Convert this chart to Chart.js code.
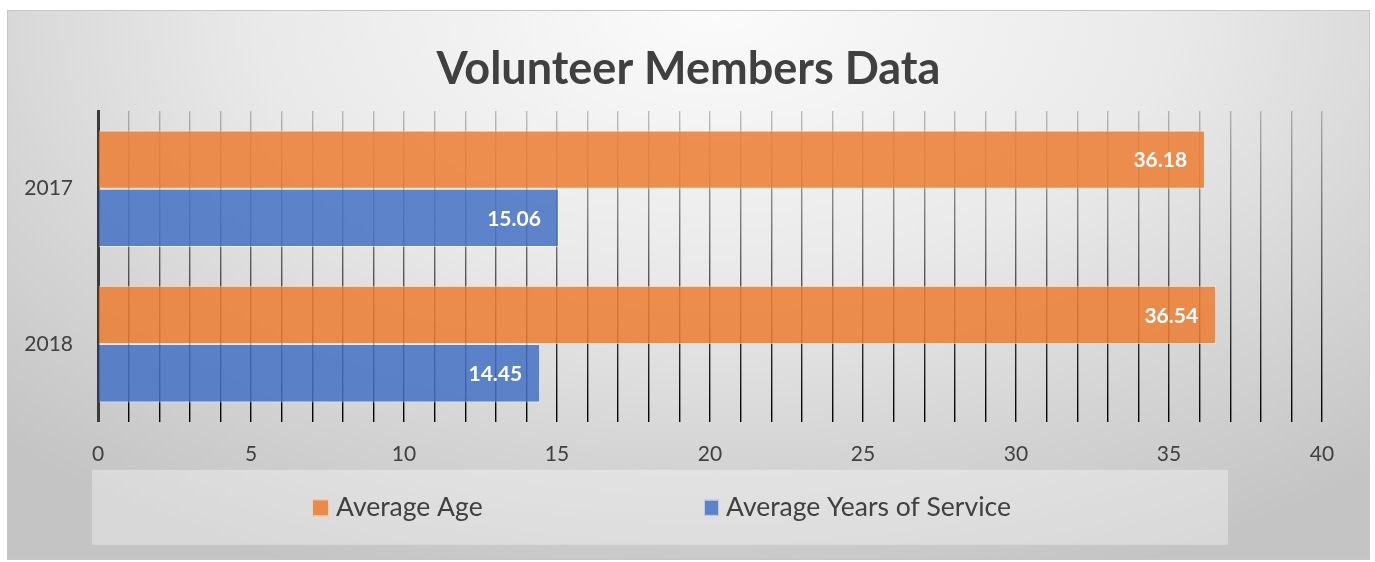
<!DOCTYPE html>
<html>
<head>
<meta charset="utf-8">
<script src="https://cdn.jsdelivr.net/npm/chart.js@4.4.1/dist/chart.umd.min.js"></script>
<style>
  html, body { margin: 0; padding: 0; background: #ffffff; }
  #frame {
    position: absolute; left: 7px; top: 10px; width: 1363px; height: 550px;
    box-sizing: border-box; border: 1px solid #c6c6c6;
    background: radial-gradient(ellipse 75% 110% at 52% 0%, #fbfbfb 0%, #e9e9e9 45%, #d4d4d4 75%, #c4c4c4 100%);
  }
</style>
</head>
<body>
<div id="frame"><canvas id="volunteerChart"></canvas></div>
<script>
// 数据
const years = ['2017', '2018'];
const avgAge = [36.18, 36.54];
const avgService = [15.06, 14.45];
const seriesNames = ['Average Age', 'Average Years of Service'];
const chartTitle = 'Volunteer Members Data';

const FONT = 'Lato, "Open Sans", sans-serif';
const orangeFill = 'rgba(237, 125, 49, 0.85)';
const blueFill = 'rgba(68, 114, 196, 0.85)';

// 标题（整张图居中）
const centeredTitle = {
    id: 'centeredTitle',
    afterDraw(chart) {
        const ctx = chart.ctx;
        ctx.save();
        ctx.font = 'bold 45px ' + FONT;
        ctx.fillStyle = '#404040';
        ctx.textAlign = 'center';
        ctx.textBaseline = 'middle';
        ctx.fillText(chartTitle, chart.width / 2, 58);
        ctx.restore();
    }
};

// 柱内数值标签
const valueLabels = {
    id: 'valueLabels',
    afterDatasetsDraw(chart) {
        const ctx = chart.ctx;
        ctx.save();
        ctx.font = 'bold 21px ' + FONT;
        ctx.fillStyle = '#ffffff';
        ctx.textAlign = 'right';
        ctx.textBaseline = 'middle';
        chart.data.datasets.forEach((ds, i) => {
            chart.getDatasetMeta(i).data.forEach((bar, j) => {
                ctx.fillText(ds.data[j].toFixed(2), bar.x - 18, bar.y + 1);
            });
        });
        ctx.restore();
    }
};

// 底部图例（带浅色底框）
const boxedLegend = {
    id: 'boxedLegend',
    afterDraw(chart) {
        const ctx = chart.ctx;
        const area = chart.chartArea;
        const top = area.bottom + 48;
        ctx.save();
        ctx.fillStyle = 'rgba(255, 255, 255, 0.35)';
        ctx.fillRect(84, top, 1136, 75);
        const items = [
            { x: 304, w: 17, h: 17 },
            { x: 696, w: 15, h: 16 }
        ];
        ctx.font = '26.5px ' + FONT;
        ctx.textBaseline = 'middle';
        ctx.textAlign = 'left';
        chart.data.datasets.forEach((ds, i) => {
            const it = items[i];
            const cy = top + 38;
            ctx.fillStyle = ds.backgroundColor;
            ctx.fillRect(it.x, cy - it.h / 2, it.w, it.h);
            ctx.strokeStyle = 'rgba(255,255,255,0.6)';
            ctx.lineWidth = 1;
            ctx.strokeRect(it.x + 0.5, cy - it.h / 2 + 0.5, it.w - 1, it.h - 1);
            ctx.fillStyle = '#404040';
            ctx.fillText(ds.label, it.x + it.w + 7, cy);
        });
        ctx.restore();
    }
};

// 网格线：上浅下深
function gridGradient(context) {
    const chart = context.chart;
    const area = chart.chartArea;
    if (!area) return '#000000';
    const g = chart.ctx.createLinearGradient(0, area.top, 0, area.bottom);
    g.addColorStop(0, 'rgba(0,0,0,0.22)');
    g.addColorStop(0.5, 'rgba(0,0,0,0.6)');
    g.addColorStop(1, 'rgba(0,0,0,1)');
    return g;
}

new Chart(document.getElementById('volunteerChart'), {
    type: 'bar',
    data: {
        labels: years,
        datasets: [
            {
                label: seriesNames[0],
                data: avgAge,
                backgroundColor: orangeFill,
                borderColor: 'rgba(255,255,255,0.55)',
                borderWidth: 1,
                categoryPercentage: 0.75,
                barPercentage: 1.0
            },
            {
                label: seriesNames[1],
                data: avgService,
                backgroundColor: blueFill,
                borderColor: 'rgba(255,255,255,0.55)',
                borderWidth: 1,
                categoryPercentage: 0.75,
                barPercentage: 1.0
            }
        ]
    },
    options: {
        indexAxis: 'y',
        responsive: true,
        maintainAspectRatio: false,
        animation: false,
        layout: {
            padding: { top: 100, left: 0, right: 47, bottom: 72 }
        },
        plugins: {
            legend: { display: false },
            tooltip: { enabled: false },
            title: { display: false }
        },
        scales: {
            x: {
                min: 0,
                max: 40,
                ticks: {
                    stepSize: 1,
                    autoSkip: false,
                    maxRotation: 0,
                    padding: 20,
                    color: '#404040',
                    font: { family: FONT, size: 21 },
                    callback: v => (v % 5 === 0 ? v : '')
                },
                grid: {
                    color: gridGradient,
                    lineWidth: 1.4,
                    drawTicks: false
                },
                border: { display: false }
            },
            y: {
                afterFit(scale) { scale.width = 90; },
                ticks: {
                    padding: 25,
                    color: '#404040',
                    font: { family: FONT, size: 21 }
                },
                grid: { display: false, drawTicks: false },
                border: { display: true, color: '#3a3a3a', width: 3 }
            }
        }
    },
    plugins: [centeredTitle, valueLabels, boxedLegend]
});
</script>
</body>
</html>
